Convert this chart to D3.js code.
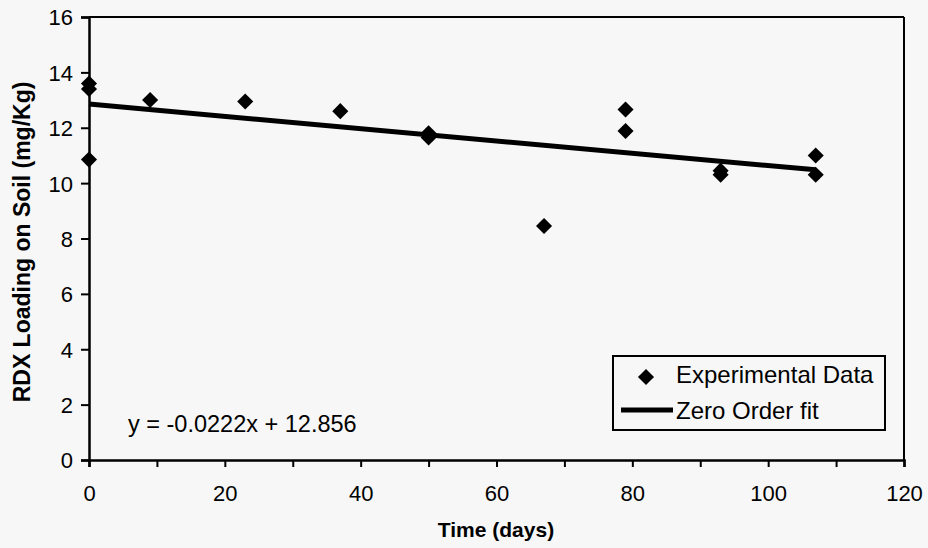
<!DOCTYPE html>
<html><head><meta charset="utf-8">
<script src="https://cdn.jsdelivr.net/npm/d3@7"></script>
<style>html,body{margin:0;padding:0;background:#f7f7f7;}svg{display:block;font-family:"Liberation Sans",Arial,sans-serif;}</style>
</head><body>
<script>
// Data
const days   = [0, 0, 0, 9, 23, 37, 50, 50, 67, 79, 79, 93, 93, 107, 107];
const rdx    = [13.6, 13.4, 10.85, 13.0, 12.95, 12.6, 11.8, 11.65, 8.45, 12.66, 11.88, 10.45, 10.3, 11.0, 10.3];
const fitSlope = -0.0222, fitIntercept = 12.856;
const fitRange = [0, 107];
const xTickLabels = [0, 20, 40, 60, 80, 100, 120];
const yTickLabels = [0, 2, 4, 6, 8, 10, 12, 14, 16];
const legendLabels = ["Experimental Data", "Zero Order fit"];
const equationText = "y = -0.0222x + 12.856";

const W = 928, H = 548;
const svg = d3.select("body").append("svg").attr("width", W).attr("height", H);
svg.append("rect").attr("width", W).attr("height", H).attr("fill", "#f7f7f7");

const x = d3.scaleLinear().domain([0, 120]).range([89, 904]);
const y = d3.scaleLinear().domain([0, 16]).range([460, 17]);

// frame top & right
svg.append("line").attr("x1", x(0)).attr("x2", x(120)).attr("y1", y(16)).attr("y2", y(16)).attr("stroke", "#000").attr("stroke-width", 2);
svg.append("line").attr("x1", x(120)).attr("x2", x(120)).attr("y1", y(16)).attr("y2", y(0)).attr("stroke", "#000").attr("stroke-width", 2);

// axes
const xAxis = d3.axisBottom(x).tickValues(d3.range(0, 121, 10)).tickSize(7).tickFormat(d => xTickLabels.includes(d) ? d : "");
const gx = svg.append("g").attr("transform", `translate(0,${y(0)})`).call(xAxis);
gx.select(".domain").attr("stroke-width", 2.5);
gx.selectAll(".tick line").attr("stroke-width", 2);
gx.selectAll(".tick text").attr("font-size", 22).attr("fill", "#000").attr("dy", 0).attr("y", 41).attr("font-family", "Liberation Sans, Arial, sans-serif");

const yAxis = d3.axisLeft(y).tickValues(yTickLabels).tickSize(8).tickFormat(d => d);
const gy = svg.append("g").attr("transform", `translate(${x(0)},0)`).call(yAxis);
gy.select(".domain").attr("stroke-width", 2.5);
gy.selectAll(".tick line").attr("stroke-width", 2);
gy.selectAll(".tick text").attr("font-size", 22).attr("fill", "#000").attr("x", -16).attr("dy", "0.36em").attr("font-family", "Liberation Sans, Arial, sans-serif");

// fit line
svg.append("line")
  .attr("x1", x(fitRange[0])).attr("y1", y(fitIntercept + fitSlope * fitRange[0]))
  .attr("x2", x(fitRange[1])).attr("y2", y(fitIntercept + fitSlope * fitRange[1]))
  .attr("stroke", "#000").attr("stroke-width", 5);

// points
const diamond = d3.symbol().type(d3.symbolDiamond2).size(165);
svg.append("g").selectAll("path").data(days.map((d, i) => [d, rdx[i]])).join("path")
  .attr("d", diamond).attr("transform", d => `translate(${x(d[0])},${y(d[1])})`).attr("fill", "#000");

// equation
svg.append("text").attr("x", 128).attr("y", 432).attr("font-size", 23.5).text(equationText);

// legend
const lg = svg.append("g");
lg.append("rect").attr("x", 613).attr("y", 356).attr("width", 272).attr("height", 74).attr("fill", "none").attr("stroke", "#000").attr("stroke-width", 2);
lg.append("path").attr("d", diamond).attr("transform", "translate(646,377)").attr("fill", "#000");
lg.append("line").attr("x1", 621).attr("x2", 673).attr("y1", 410).attr("y2", 410).attr("stroke", "#000").attr("stroke-width", 5);
lg.append("text").attr("x", 676).attr("y", 383).attr("font-size", 24).text(legendLabels[0]);
lg.append("text").attr("x", 676).attr("y", 419).attr("font-size", 24).text(legendLabels[1]);

// axis titles
svg.append("text").attr("x", 496).attr("y", 537).attr("text-anchor", "middle").attr("font-size", 21).attr("font-weight", "bold").text("Time (days)");
svg.append("text").attr("transform", "translate(30,242) rotate(-90)").attr("text-anchor", "middle").attr("font-size", 23).attr("font-weight", "bold").text("RDX Loading on Soil (mg/Kg)");
</script>
</body></html>
